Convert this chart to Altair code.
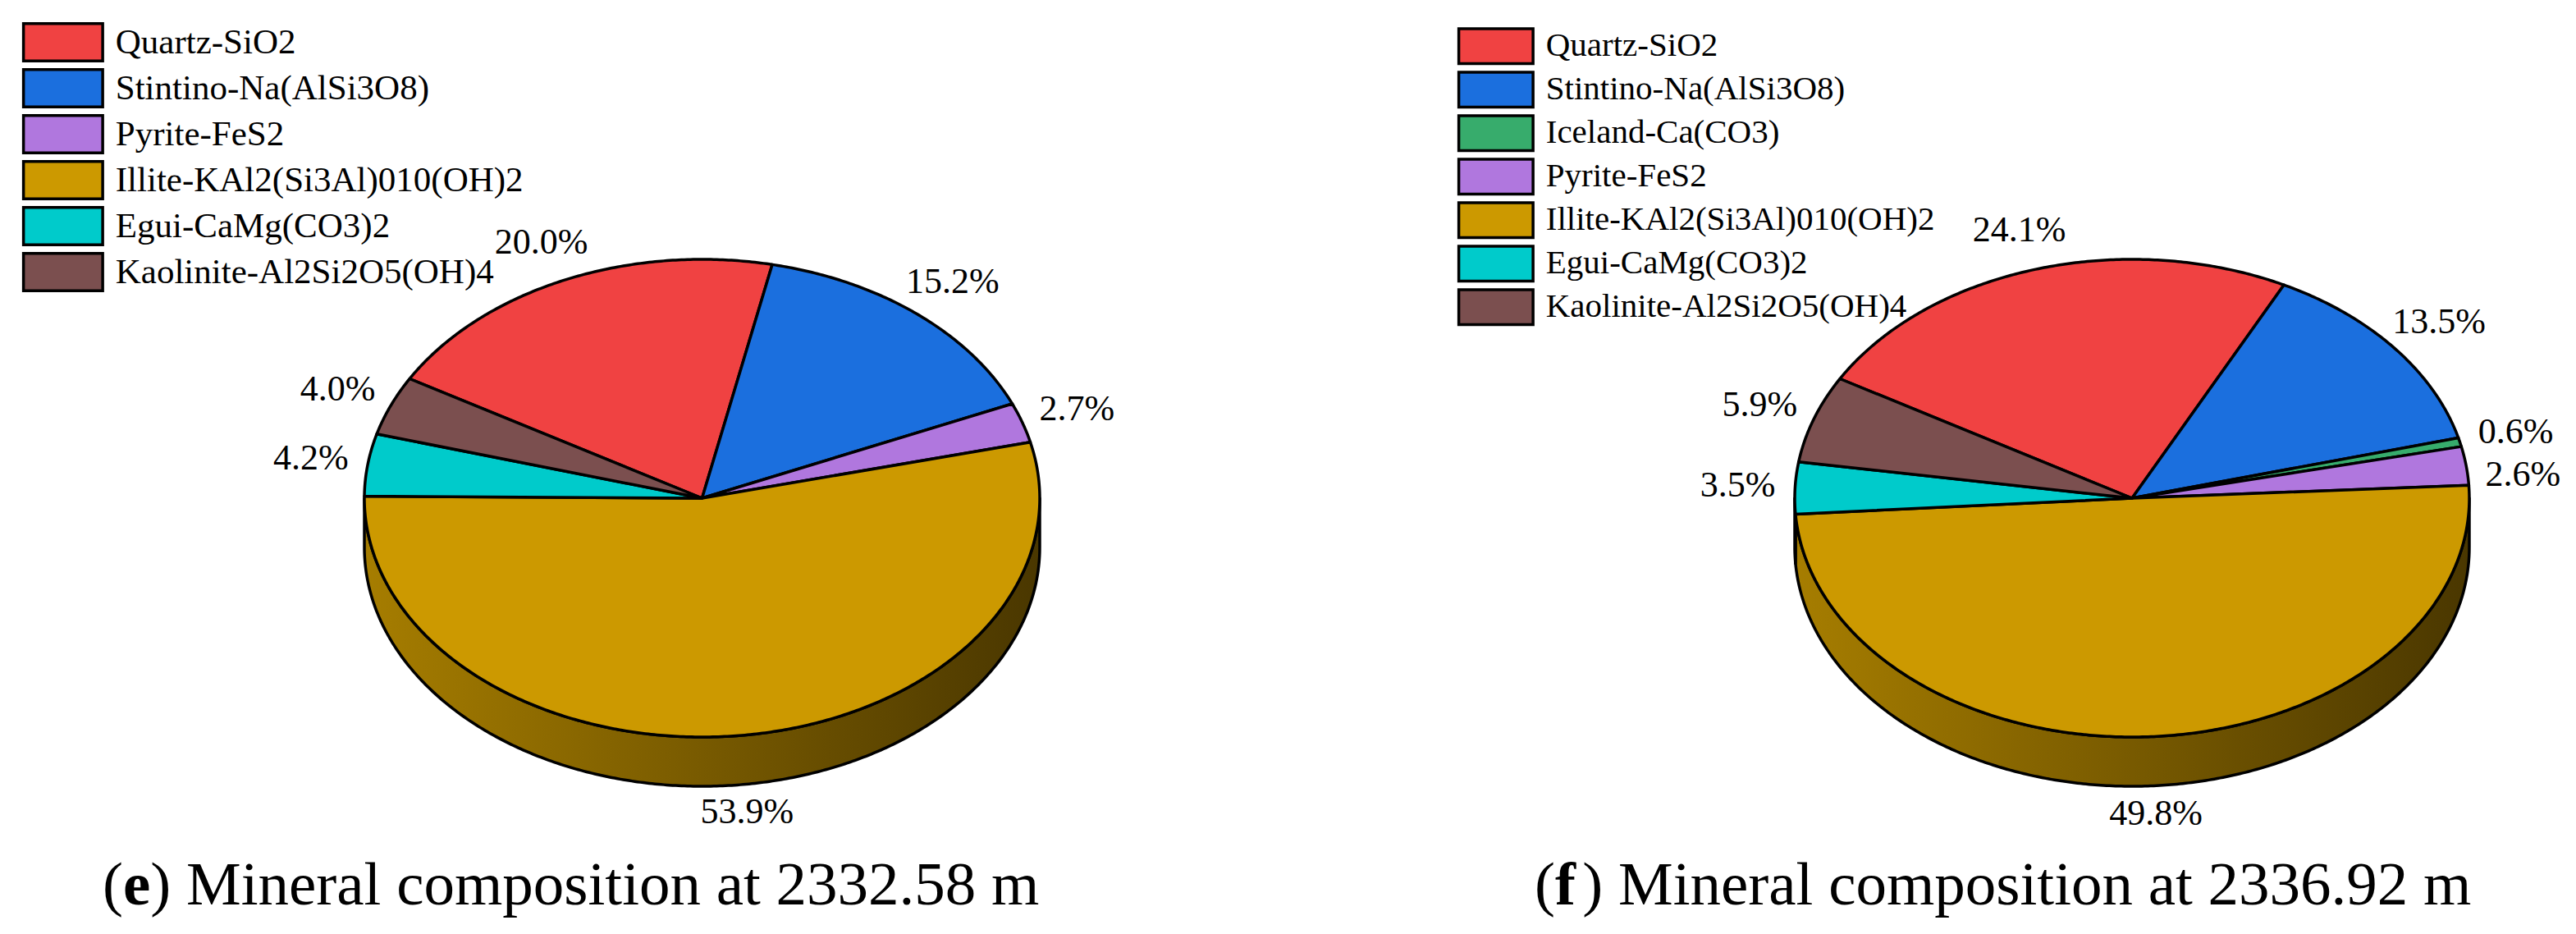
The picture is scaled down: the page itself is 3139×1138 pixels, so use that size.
import math
import altair as alt
import pandas as pd

# ---------------- data ----------------
left_minerals = ["Quartz-SiO2", "Stintino-Na(AlSi3O8)", "Pyrite-FeS2",
                 "Illite-KAl2(Si3Al)010(OH)2", "Egui-CaMg(CO3)2",
                 "Kaolinite-Al2Si2O5(OH)4"]
left_values = [20.0, 15.2, 2.7, 53.9, 4.2, 4.0]

right_minerals = ["Quartz-SiO2", "Stintino-Na(AlSi3O8)", "Iceland-Ca(CO3)",
                  "Pyrite-FeS2", "Illite-KAl2(Si3Al)010(OH)2",
                  "Egui-CaMg(CO3)2", "Kaolinite-Al2Si2O5(OH)4"]
right_values = [24.1, 13.5, 0.6, 2.6, 49.8, 3.5, 5.9]

palette_names = ["Quartz-SiO2", "Stintino-Na(AlSi3O8)", "Iceland-Ca(CO3)",
                 "Pyrite-FeS2", "Illite-KAl2(Si3Al)010(OH)2",
                 "Egui-CaMg(CO3)2", "Kaolinite-Al2Si2O5(OH)4"]
palette_colors = ["#F04242", "#1B6FDE", "#37AC6C", "#B077DE", "#CC9900",
                  "#00CBCB", "#7B4F4F"]

left_caption = ["(", "e", ") Mineral composition at 2332.58 m"]
right_caption = ["(", "f", ") Mineral composition at 2336.92 m"]

# ---------------- layout (pixels) ----------------
PAGE = 8
LEFT_W = 1562
RIGHT_W = 1560
H = 1115
START = -60.0          # compass angle where the first slice starts
FONT = "Liberation Serif"
LABEL_SIZE = 44
LABEL_GAP = 52         # minimum vertical distance between neighbouring labels
EDGE = 3.5             # outline width
PROJ = dict(type="identity", scale=1, translate=[0, 0])

color_of = dict(zip(palette_names, palette_colors))


def spread(labels):
    """Push neighbouring percentage labels apart so they never overlap."""
    for i in range(1, len(labels)):
        p, q = labels[i - 1], labels[i]
        if abs(q["lx"] - p["lx"]) < 110 and abs(q["ly"] - p["ly"]) < LABEL_GAP:
            if q["mid"] <= 180:
                q["ly"] = p["ly"] + LABEL_GAP
            else:
                q["ly"] = p["ly"] - LABEL_GAP
    return labels


def panel(minerals, values, caption, origin_x, cx, cy, rx, ry, depth,
          leg_x, leg_y, sym_w, leg_font, row_pad, cap_x, width):
    ox, oy = origin_x, PAGE
    total = sum(values)
    slices, sides, labels = [], [], []
    a = START
    for m, v in zip(minerals, values):
        span = 360.0 * v / total
        a0, a1 = a, a + span
        a = a1
        n = max(2, int(math.ceil(span / 0.5)))
        pts = [[cx - ox, cy - oy]]
        for i in range(n + 1):
            t = math.radians(a0 + span * i / n)
            pts.append([cx + rx * math.sin(t) - ox, cy - ry * math.cos(t) - oy])
        pts.append([cx - ox, cy - oy])
        slices.append({"type": "Feature", "properties": {"mineral": m},
                       "geometry": {"type": "Polygon", "coordinates": [pts]}})
        s0, s1 = max(a0, 90.0), min(a1, 270.0)
        if s1 > s0:
            k = max(2, int(math.ceil((s1 - s0) / 0.5)))
            top, bot = [], []
            for i in range(k + 1):
                t = math.radians(s0 + (s1 - s0) * i / k)
                x = cx + rx * math.sin(t) - ox
                y = cy - ry * math.cos(t) - oy
                top.append([x, y])
                bot.append([x, y + depth])
            ring = top + bot[::-1] + [top[0]]
            sides.append({"type": "Feature", "properties": {"mineral": m},
                          "geometry": {"type": "Polygon", "coordinates": [ring]}})
        mid_deg = ((a0 + a1) / 2.0) % 360.0
        mid = math.radians(mid_deg)
        kk = 1.17
        lx = cx + kk * rx * math.sin(mid)
        ly = cy - kk * ry * math.cos(mid) + 0.75 * depth * max(0.0, -math.cos(mid))
        labels.append({"lx": lx - ox, "ly": ly - oy, "mid": mid_deg,
                       "label": f"{v:.1f}%"})
    labels = spread(labels)

    grad = alt.Gradient(
        gradient="linear",
        stops=[alt.GradientStop(offset=0, color="#A67D00"),
               alt.GradientStop(offset=1, color="#4A3700")],
        x1=0, y1=0, x2=1, y2=0)

    side_layer = alt.Chart(alt.Data(values=sides)).mark_geoshape(
        fill=grad, stroke="black", strokeWidth=EDGE, strokeJoin="round"
    ).project(**PROJ)

    sym_size = (sym_w / 2.0) ** 2
    top_layer = alt.Chart(alt.Data(values=slices)).mark_geoshape(
        stroke="black", strokeWidth=EDGE, strokeJoin="round"
    ).encode(
        color=alt.Color(
            "properties.mineral:N",
            scale=alt.Scale(domain=minerals, range=[color_of[m] for m in minerals]),
            legend=alt.Legend(
                title=None, orient="none", legendX=leg_x - ox, legendY=leg_y - oy,
                direction="vertical", padding=0,
                symbolType="M-2,-0.94H2V0.94H-2Z", symbolSize=sym_size,
                symbolStrokeColor="black", symbolStrokeWidth=3.5,
                symbolOpacity=1, symbolOffset=sym_w / 4.0,
                labelOffset=sym_w / 4.0 + 13.75,
                labelFont=FONT, labelFontSize=leg_font, labelColor="black",
                labelLimit=0, rowPadding=row_pad,
            ),
        )
    ).project(**PROJ)

    label_layer = alt.Chart(pd.DataFrame(labels)).mark_text(
        font=FONT, fontSize=LABEL_SIZE, color="black", align="center", baseline="middle"
    ).encode(longitude="lx:Q", latitude="ly:Q", text="label:N").project(**PROJ)

    cap_size = 75
    cap_y = 1102 - oy
    x0 = cap_x - ox
    reg = pd.DataFrame([
        {"cx": x0, "cy": cap_y, "t": caption[0]},
        {"cx": x0 + 0.333 * cap_size + 0.444 * cap_size, "cy": cap_y, "t": caption[2]},
    ])
    bold = pd.DataFrame([{"cx": x0 + 0.333 * cap_size, "cy": cap_y, "t": caption[1]}])
    cap_reg = alt.Chart(reg).mark_text(
        font=FONT, fontSize=cap_size, color="black", align="left", baseline="alphabetic"
    ).encode(longitude="cx:Q", latitude="cy:Q", text="t:N").project(**PROJ)
    cap_bold = alt.Chart(bold).mark_text(
        font=FONT, fontSize=cap_size, fontWeight="bold", color="black",
        align="left", baseline="alphabetic"
    ).encode(longitude="cx:Q", latitude="cy:Q", text="t:N").project(**PROJ)

    return alt.layer(side_layer, top_layer, label_layer, cap_reg, cap_bold).properties(
        width=width, height=H)


left = panel(left_minerals, left_values, left_caption, PAGE,
             855.5, 607, 411.5, 291, 60,
             26.75, 25.5, 96.5, 43, -5, 125, LEFT_W)
right = panel(right_minerals, right_values, right_caption, PAGE + LEFT_W,
              2598, 607, 411, 291, 60,
              1775.75, 31.75, 90.5, 41, -4.5, 1870, RIGHT_W)

chart = alt.hconcat(left, right, spacing=0).resolve_scale(
    color="independent").resolve_legend(color="independent").properties(
    padding=0).configure_view(strokeWidth=0)

chart.save("out.html", embed_options={"renderer": "svg", "actions": False})
